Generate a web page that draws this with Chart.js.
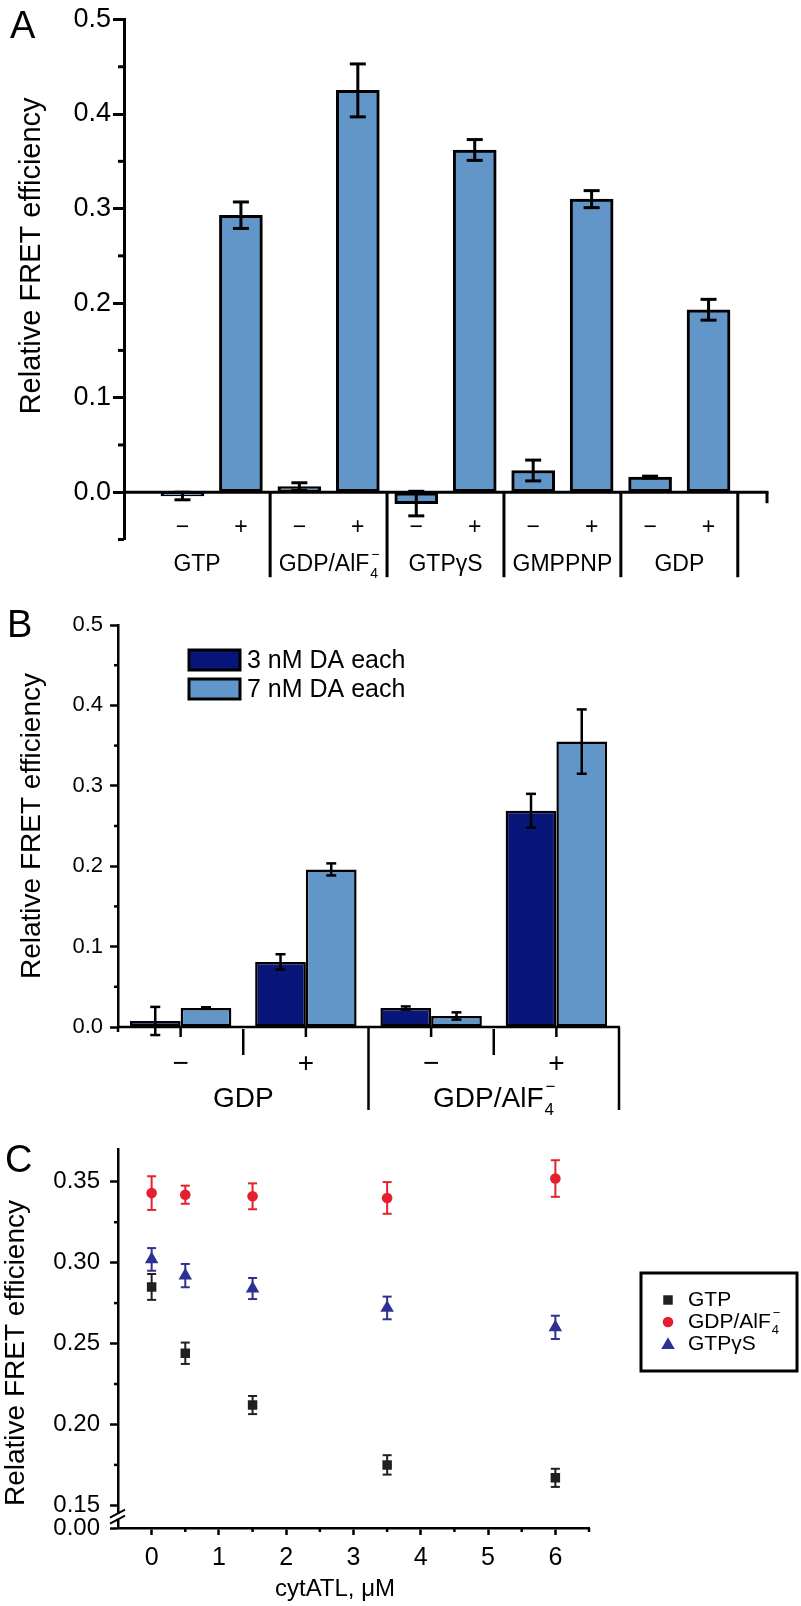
<!DOCTYPE html>
<html><head><meta charset="utf-8">
<script src="https://cdn.jsdelivr.net/npm/chart.js@4.4.1/dist/chart.umd.min.js"></script>
<style>
html,body{margin:0;padding:0;background:#fff;}
#wrap{position:relative;width:801px;height:1606px;overflow:hidden;background:#fff;}
canvas{position:absolute;left:0;}
</style></head><body>
<div id="wrap">
<canvas id="cA" width="801" height="600" style="top:0px;width:801px;height:600px"></canvas>
<canvas id="cB" width="801" height="525" style="top:600px;width:801px;height:525px"></canvas>
<canvas id="cC" width="801" height="481" style="top:1125px;width:801px;height:481px"></canvas>
</div>
<script>
// ---------- DATA ----------
// Panel A
const groupsA = ['GTP', 'GDP/AlF_4^−', 'GTPγS', 'GMPPNP', 'GDP'];
const signsA = ['−', '+', '−', '+', '−', '+', '−', '+', '−', '+'];
const valuesA = [-0.004, 0.293, 0.006, 0.425, -0.012, 0.362, 0.023, 0.310, 0.016, 0.193];
const errorsA = [0.004, 0.014, 0.004, 0.028, 0.013, 0.011, 0.011, 0.009, 0.001, 0.011];
const yTicksA = [0.0, 0.1, 0.2, 0.3, 0.4, 0.5];
const yMinorA = [-0.05, 0.05, 0.15, 0.25, 0.35, 0.45];
// Panel B
const groupsB = ['GDP', 'GDP/AlF_4^−'];
const signsB = ['−', '+', '−', '+'];
const seriesB = ['3 nM DA each', '7 nM DA each'];
const values3nM = [0.0075, 0.081, 0.0236, 0.269];
const errors3nM = [0.0175, 0.0095, 0.002, 0.021];
const values7nM = [0.0236, 0.196, 0.0137, 0.355];
const errors7nM = [0.001, 0.0075, 0.0045, 0.040];
const yTicksB = [0.0, 0.1, 0.2, 0.3, 0.4, 0.5];
const yMinorB = [0.05, 0.15, 0.25, 0.35, 0.45];
// Panel C
const concC = [0, 0.5, 1.5, 3.5, 6];
const seriesC = ['GTP', 'GDP/AlF_4^−', 'GTPγS'];
const gtpC = [0.285, 0.244, 0.212, 0.175, 0.167];
const gtpErrC = [0.008, 0.0066, 0.0056, 0.006, 0.0056];
const alfC = [0.343, 0.342, 0.341, 0.340, 0.352];
const alfErrC = [0.0104, 0.0056, 0.008, 0.0098, 0.0113];
const gtpgsC = [0.302, 0.292, 0.284, 0.272, 0.260];
const gtpgsErrC = [0.007, 0.0072, 0.0065, 0.007, 0.0072];
const xTicksC = [0, 1, 2, 3, 4, 5, 6];
const xMinorC = [0.5, 1.5, 2.5, 3.5, 4.5, 5.5, 6.5];
const yTicksC = [0.15, 0.20, 0.25, 0.30, 0.35];
const yMinorC = [0.175, 0.225, 0.275, 0.325];
const yBreakLabelC = '0.00';
const yTitle = 'Relative FRET efficiency';
const xTitleC = 'cytATL, μM';

// ---------- STYLE ----------
const FAM = "'Liberation Sans', Arial, Helvetica, sans-serif";
const LIGHT = '#6295c8', DARK = '#08167a';
const C_COLORS = ['#231f20', '#e5202e', '#2e3192'];
const C_STYLES = ['rect', 'circle', 'triangle'];
const C_RADII = [6.7, 5.3, 7.8];
Chart.defaults.font.family = FAM;
Chart.defaults.color = '#000';

function seg(ctx, x1, y1, x2, y2) { ctx.beginPath(); ctx.moveTo(x1, y1); ctx.lineTo(x2, y2); ctx.stroke(); }
function drawErr(ctx, x, yT, yB, half, lw, color) {
  ctx.strokeStyle = color; ctx.lineWidth = lw;
  seg(ctx, x, yT, x, yB); seg(ctx, x - half, yT, x + half, yT); seg(ctx, x - half, yB, x + half, yB);
}
function parseRich(s) {
  const m = s.match(/^(.*)_(.)\^(.)$/);
  return m ? { base: m[1], sub: m[2], sup: m[3] } : { base: s };
}
function drawRich(ctx, s, x, y, size, align) {
  const r = parseRich(s);
  ctx.font = size + 'px ' + FAM;
  const bw = ctx.measureText(r.base).width;
  let w = bw;
  const ss = Math.round(size * 0.62);
  if (r.sub) {
    ctx.font = ss + 'px ' + FAM;
    w += 1 + Math.max(ctx.measureText(r.sub).width, ctx.measureText(r.sup).width);
  }
  const x0 = align === 'left' ? x : x - w / 2;
  ctx.textAlign = 'left'; ctx.textBaseline = 'middle'; ctx.fillStyle = '#000';
  ctx.font = size + 'px ' + FAM; ctx.fillText(r.base, x0, y);
  if (r.sub) {
    ctx.font = ss + 'px ' + FAM;
    ctx.fillText(r.sub, x0 + bw + 1, y + size * 0.42);
    ctx.fillText(r.sup, x0 + bw + 2, y - size * 0.40);
  }
}
function drawYTitle(ctx, text, cx, cy, size) {
  ctx.save(); ctx.translate(cx, cy); ctx.rotate(-Math.PI / 2);
  ctx.font = size + 'px ' + FAM; ctx.textAlign = 'center'; ctx.textBaseline = 'middle'; ctx.fillStyle = '#000';
  ctx.fillText(text, 0, 0); ctx.restore();
}
function drawLetter(ctx, t, x, y, size) {
  ctx.font = size + 'px ' + FAM; ctx.textAlign = 'left'; ctx.textBaseline = 'alphabetic'; ctx.fillStyle = '#000';
  ctx.fillText(t, x, y);
}
function drawMarker(ctx, style, x, y, r, color) {
  ctx.fillStyle = color; ctx.beginPath();
  if (style === 'rect') { const h = r * Math.SQRT1_2; ctx.rect(x - h, y - h, 2 * h, 2 * h); }
  else if (style === 'circle') { ctx.arc(x, y, r, 0, Math.PI * 2); }
  else { for (let k = 0; k < 3; k++) { const a = k * 2 * Math.PI / 3; const px = x + Math.sin(a) * r, py = y - Math.cos(a) * r; k ? ctx.lineTo(px, py) : ctx.moveTo(px, py); } ctx.closePath(); }
  ctx.fill();
}

const baseOpts = { responsive: false, animation: false, devicePixelRatio: 1,
  plugins: { legend: { display: false }, tooltip: { enabled: false } } };

// ---------- PANEL A ----------
const plugA = {
  id: 'plugA',
  afterDatasetsDraw(chart) {
    const { ctx, scales: { y } } = chart; const meta = chart.getDatasetMeta(0);
    ctx.save();
    meta.data.forEach((bar, i) => drawErr(ctx, bar.x, y.getPixelForValue(valuesA[i] + errorsA[i]), y.getPixelForValue(valuesA[i] - errorsA[i]), 8, 3, '#000'));
    ctx.restore();
  },
  afterDraw(chart) {
    const { ctx, chartArea: ca, scales: { x, y } } = chart;
    ctx.save(); ctx.strokeStyle = '#000'; ctx.lineWidth = 3;
    yMinorA.forEach(v => { const p = y.getPixelForValue(v); seg(ctx, ca.left - 6, p, ca.left, p); });
    const y0 = y.getPixelForValue(0);
    seg(ctx, ca.left, y0, ca.right + 1.5, y0);
    seg(ctx, ca.right, y0, ca.right, y0 + 11);
    const bounds = [x.min]; groupsA.forEach((g, k) => bounds.push(2 * k + 2.5));
    bounds.slice(1).forEach(b => { const p = x.getPixelForValue(b); seg(ctx, p, y0, p, y0 + 85); });
    ctx.fillStyle = '#000'; ctx.textAlign = 'center'; ctx.textBaseline = 'middle'; ctx.font = '23px ' + FAM;
    signsA.forEach((s, i) => ctx.fillText(s, x.getPixelForValue(i + 1), y0 + 35));
    groupsA.forEach((g, k) => drawRich(ctx, g, (x.getPixelForValue(bounds[k]) + x.getPixelForValue(bounds[k + 1])) / 2, y0 + 72, 23));
    drawYTitle(ctx, yTitle, 32, (y.getPixelForValue(0) + y.getPixelForValue(0.5)) / 2, 29);
    drawLetter(ctx, 'A', 10, 38, 38);
    ctx.restore();
  }
};
new Chart(document.getElementById('cA'), {
  type: 'bar',
  data: { datasets: [{ data: valuesA.map((v, i) => ({ x: i + 1, y: v })), backgroundColor: LIGHT, borderColor: '#000', borderWidth: 3, borderSkipped: false, barThickness: 43 }] },
  options: Object.assign({}, baseOpts, {
    layout: { padding: { left: 0, right: 34, top: 19.5, bottom: 60.5 } },
    scales: {
      x: { type: 'linear', min: 0, max: 11, display: false, offset: false },
      y: { min: -0.05, max: 0.5,
        afterFit(s) { s.width = 124; },
        afterBuildTicks(s) { s.ticks = yTicksA.map(v => ({ value: v })); },
        ticks: { callback: v => v.toFixed(1), font: { size: 27 }, color: '#000', padding: 2, autoSkip: false },
        grid: { drawOnChartArea: false, drawTicks: true, tickLength: 11, tickWidth: 3, tickColor: '#000' },
        border: { display: true, color: '#000', width: 3 } }
    }
  }),
  plugins: [plugA]
});

// ---------- PANEL B ----------
const plugB = {
  id: 'plugB',
  afterDatasetsDraw(chart) {
    const { ctx, scales: { y } } = chart;
    const vals = [values3nM, values7nM], errs = [errors3nM, errors7nM];
    ctx.save();
    [0, 1].forEach(d => chart.getDatasetMeta(d).data.forEach((bar, i) =>
      drawErr(ctx, bar.x, y.getPixelForValue(vals[d][i] + errs[d][i]), y.getPixelForValue(vals[d][i] - errs[d][i]), 5, 2.5, '#000')));
    ctx.restore();
  },
  afterDraw(chart) {
    const { ctx, chartArea: ca, scales: { x, y } } = chart;
    ctx.save(); ctx.strokeStyle = '#000'; ctx.lineWidth = 2.5;
    yMinorB.forEach(v => { const p = y.getPixelForValue(v); seg(ctx, ca.left - 4, p, ca.left, p); });
    const y0 = y.getPixelForValue(0);
    seg(ctx, ca.left, y0, ca.right + 1, y0);
    seg(ctx, ca.left, y0, ca.left, y0 + 5);
    const cx = signsB.map((s, i) => x.getPixelForValue(i));
    cx.forEach(p => seg(ctx, p, y0, p, y0 + 10));
    const groupBounds = [ca.left];
    for (let i = 1; i <= cx.length; i++) {
      const p = i < cx.length ? (cx[i - 1] + cx[i]) / 2 : ca.right;
      const sameGroup = i < cx.length && Math.floor((i - 1) / 2) === Math.floor(i / 2);
      if (sameGroup) seg(ctx, p, y0 + 2, p, y0 + 28);
      else { seg(ctx, p, y0, p, y0 + 83); groupBounds.push(p); }
    }
    ctx.fillStyle = '#000'; ctx.textAlign = 'center'; ctx.textBaseline = 'middle'; ctx.font = '28px ' + FAM;
    signsB.forEach((s, i) => ctx.fillText(s, cx[i], y0 + 37));
    groupsB.forEach((g, k) => drawRich(ctx, g, (groupBounds[k] + groupBounds[k + 1]) / 2, y0 + 72, 28));
    // legend
    [DARK, LIGHT].forEach((c, k) => {
      const lx = ca.left + 71, ly = ca.top + 25 + k * 29;
      ctx.fillStyle = c; ctx.fillRect(lx, ly, 51, 20);
      ctx.lineWidth = 3; ctx.strokeStyle = '#000'; ctx.strokeRect(lx, ly, 51, 20);
      ctx.fillStyle = '#000'; ctx.textAlign = 'left'; ctx.textBaseline = 'middle'; ctx.font = '25px ' + FAM;
      ctx.fillText(seriesB[k], lx + 58, ly + 11);
    });
    drawYTitle(ctx, yTitle, 32, (ca.top + ca.bottom) / 2, 28);
    drawLetter(ctx, 'B', 7, 37, 38);
    ctx.restore();
  }
};
new Chart(document.getElementById('cB'), {
  type: 'bar',
  data: { labels: signsB, datasets: [
    { label: seriesB[0], data: values3nM, backgroundColor: DARK, borderColor: '#000', borderWidth: 2.5, borderSkipped: false, categoryPercentage: 0.81, barPercentage: 1 },
    { label: seriesB[1], data: values7nM, backgroundColor: LIGHT, borderColor: '#000', borderWidth: 2.5, borderSkipped: false, categoryPercentage: 0.81, barPercentage: 1 }
  ] },
  options: Object.assign({}, baseOpts, {
    layout: { padding: { left: 0, right: 182, top: 25, bottom: 98 } },
    scales: {
      x: { display: false, offset: true },
      y: { min: 0, max: 0.5,
        afterFit(s) { s.width = 118; },
        afterBuildTicks(s) { s.ticks = yTicksB.map(v => ({ value: v })); },
        ticks: { callback: v => v.toFixed(1), font: { size: 22 }, color: '#000', padding: 7, autoSkip: false },
        grid: { drawOnChartArea: false, drawTicks: true, tickLength: 8, tickWidth: 2.5, tickColor: '#000' },
        border: { display: true, color: '#000', width: 2.5 } }
    }
  }),
  plugins: [plugB]
});

// ---------- PANEL C ----------
const valsC = [gtpC, alfC, gtpgsC], errsC = [gtpErrC, alfErrC, gtpgsErrC];
const plugC = {
  id: 'plugC',
  beforeDatasetsDraw(chart) {
    const { ctx, scales: { x, y } } = chart;
    ctx.save();
    valsC.forEach((vals, d) => vals.forEach((v, i) =>
      drawErr(ctx, x.getPixelForValue(concC[i]), y.getPixelForValue(v + errsC[d][i]), y.getPixelForValue(v - errsC[d][i]), 4.5, 2, C_COLORS[d])));
    ctx.restore();
  },
  afterDraw(chart) {
    const { ctx, chartArea: ca, scales: { x, y } } = chart;
    ctx.save(); ctx.strokeStyle = '#000'; ctx.lineWidth = 2.5;
    yMinorC.forEach(v => { const p = y.getPixelForValue(v); seg(ctx, ca.left - 4, p, ca.left, p); });
    xMinorC.forEach(v => { const p = x.getPixelForValue(v); seg(ctx, p, ca.bottom, p, ca.bottom + 4); });
    // axis break
    const yb = (y.getPixelForValue(y.min) + y.getPixelForValue(yTicksC[0])) / 2;
    ctx.fillStyle = '#fff'; ctx.fillRect(ca.left - 3, yb - 3, 6, 6);
    ctx.lineWidth = 2;
    seg(ctx, ca.left - 8, yb + 1, ca.left + 7, yb - 7);
    seg(ctx, ca.left - 8, yb + 7, ca.left + 7, yb - 1);
    // legend
    const bx = 641, by = 1273 - 1125, bw = 156, bh = 98;
    ctx.lineWidth = 3; ctx.strokeStyle = '#000'; ctx.strokeRect(bx, by, bw, bh);
    seriesC.forEach((s, k) => {
      const ly = by + 27 + k * 22;
      drawMarker(ctx, C_STYLES[k], bx + 27, ly + (k === 2 ? 1 : 0), C_RADII[k], C_COLORS[k]);
      drawRich(ctx, s, bx + 47, ly, 21, 'left');
    });
    // titles
    ctx.fillStyle = '#000'; ctx.font = '24px ' + FAM; ctx.textAlign = 'center'; ctx.textBaseline = 'middle';
    ctx.fillText(xTitleC, ca.left + 217, ca.bottom + 61);
    drawYTitle(ctx, yTitle, 16, ca.bottom - 175, 28);
    drawLetter(ctx, 'C', 5, 47, 38);
    ctx.restore();
  }
};
new Chart(document.getElementById('cC'), {
  type: 'scatter',
  data: { datasets: valsC.map((vals, d) => ({
    label: seriesC[d], data: vals.map((v, i) => ({ x: concC[i], y: v })),
    pointStyle: C_STYLES[d], pointRadius: C_RADII[d], backgroundColor: C_COLORS[d], borderColor: C_COLORS[d], borderWidth: 0, showLine: false })) },
  options: Object.assign({}, baseOpts, {
    layout: { padding: { left: 0, right: 212, top: 22, bottom: 0 } },
    scales: {
      x: { type: 'linear', min: -0.5, max: 6.5,
        afterFit(s) { s.height = 78; },
        afterBuildTicks(s) { s.ticks = xTicksC.map(v => ({ value: v })); },
        ticks: { callback: v => String(v), font: { size: 25 }, color: '#000', padding: 8, autoSkip: false, maxRotation: 0 },
        grid: { drawOnChartArea: false, drawTicks: true, tickLength: 7, tickWidth: 2.5, tickColor: '#000' },
        border: { display: true, color: '#000', width: 2.5 } },
      y: { min: 0.136, max: 0.37,
        afterFit(s) { s.width = 118; },
        afterBuildTicks(s) { s.ticks = [{ value: s.min }].concat(yTicksC.map(v => ({ value: v }))); },
        ticks: { callback: function (v) { return Math.abs(v - this.min) < 1e-9 ? yBreakLabelC : v.toFixed(2); }, font: { size: 24 }, color: '#000', padding: 10, autoSkip: false },
        grid: { drawOnChartArea: false, drawTicks: true, tickLength: 8, tickWidth: 2.5, tickColor: '#000' },
        border: { display: true, color: '#000', width: 2.5 } }
    }
  }),
  plugins: [plugC]
});
</script>
</body></html>
